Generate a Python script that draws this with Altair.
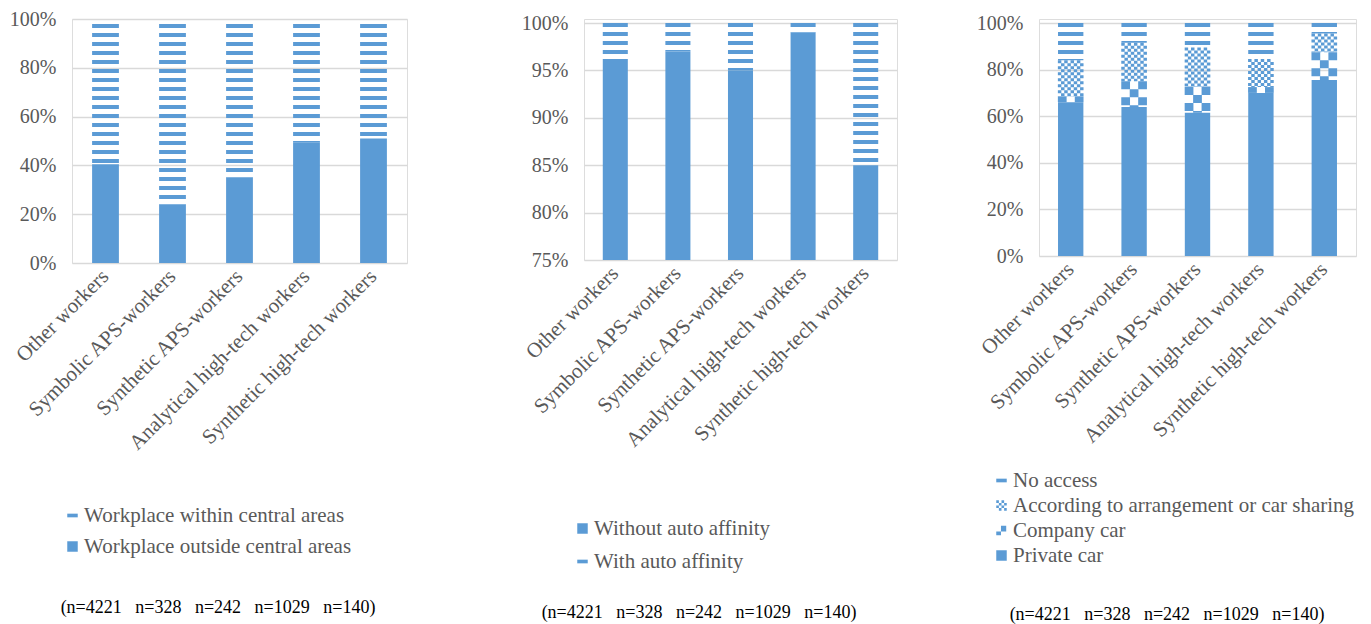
import altair as alt
import pandas as pd

BLUE = "#5B9BD5"
GRAY = "#595959"
GRID = "#D9D9D9"
FONT = "Liberation Serif"
NBSP = "\u00a0"

CATS = ["Other workers", "Symbolic APS-workers", "Synthetic APS-workers",
        "Analytical high-tech workers", "Synthetic high-tech workers"]

# Panel 1: workplace location
P1_SERIES = ["Workplace outside central areas", "Workplace within central areas"]
P1_OUTSIDE = [40.5, 24, 35, 49.5, 51]
P1_WITHIN = [59.5, 76, 65, 50.5, 49]
P1_LEGEND = ["Workplace within central areas", "Workplace outside central areas"]

# Panel 2: auto affinity
P2_SERIES = ["Without auto affinity", "With auto affinity"]
P2_WITHOUT = [96, 97, 95, 99, 85]
P2_WITH = [4, 3, 5, 1, 15]
P2_LEGEND = ["Without auto affinity", "With auto affinity"]

# Panel 3: car access
P3_SERIES = ["Private car", "Company car", "According to arrangement or car sharing", "No access"]
P3_PRIVATE = [66, 64, 61.5, 70, 75.5]
P3_COMPANY = [2.5, 11, 11, 2.5, 12]
P3_ARRANGE = [15.5, 16.5, 17, 12, 8]
P3_NOACCESS = [16, 8.5, 10.5, 15.5, 4.5]
P3_LEGEND = ["No access", "According to arrangement or car sharing", "Company car", "Private car"]

N_LABELS = ["n=4221", "n=328", "n=242", "n=1029", "n=140"]
N_TEXT = "(" + (NBSP * 3).join(N_LABELS) + ")"

# legend symbol paths (unit square -1..1)
SYM_SOLID = "M-1,-1H1V1H-1Z"
SYM_STRIPE = "M-1,-0.35H1V0.35H-1Z"
SYM_CHECK = "M-0.1,-0.9H0.9V0.2H-0.1Z M-1,0.2H-0.1V0.9H-1Z"
SYM_FINE = ("M-1,-1h0.5v0.5h-0.5Z M0,-1h0.5v0.5h-0.5Z M-0.5,-0.5h0.5v0.5h-0.5Z "
            "M0.5,-0.5h0.5v0.5h-0.5Z M-1,0h0.5v0.5h-0.5Z M0,0h0.5v0.5h-0.5Z "
            "M-0.5,0.5h0.5v0.5h-0.5Z M0.5,0.5h0.5v0.5h-0.5Z")


def long_df(names, values):
    rows = []
    for k, (name, vals) in enumerate(zip(names, values)):
        for c, v in zip(CATS, vals):
            rows.append({"cat": c, "series": name, "value": v, "order": k})
    return pd.DataFrame(rows)


def panel(df, width, height, ydomain, yticks, yrange, styles, legend_order,
          legend_paths, legend_x, legend_y, row_pad, n_x, n_y):
    step = width / 5.0
    bw = 0.4 * step
    x = alt.X("cat:N", sort=CATS,
              scale=alt.Scale(paddingInner=0.6, paddingOuter=0.3),
              axis=alt.Axis(title=None, labelAngle=-45, labelAlign="right",
                            labelBaseline="middle", labelPadding=10,
                            labelLimit=400, labelFontSize=21, labelFont=FONT,
                            labelColor=GRAY, domain=False, ticks=False,
                            grid=False))
    yscale_kwargs = dict(domain=ydomain, clamp=True, nice=False, zero=False)
    if yrange is not None:
        yscale_kwargs["range"] = yrange
    y = alt.Y("y1:Q", scale=alt.Scale(**yscale_kwargs),
              axis=alt.Axis(title=None, values=yticks,
                            labelExpr="datum.value + '%'", labelPadding=16,
                            labelFontSize=20, labelFont=FONT, labelColor=GRAY,
                            domain=False, ticks=False, gridColor=GRID,
                            gridWidth=1.5))
    base = alt.Chart(df).transform_stack(
        stack="value", groupby=["cat"], as_=["y0", "y1"],
        sort=[alt.SortField("order")])

    layers = []
    for name, style in styles.items():
        filt = base.transform_filter(alt.datum.series == name)
        kind = style[0]
        if kind == "solid":
            layers.append(filt.mark_bar(color=BLUE).encode(x=x, y=y, y2="y0:Q"))
        elif kind == "stripe":
            off = style[1]
            layers.append(filt.mark_rule(color=BLUE, strokeWidth=bw,
                                         strokeDash=[4, 5], strokeDashOffset=off,
                                         strokeCap="butt")
                          .encode(x=x, y=y, y2="y0:Q"))
        elif kind == "checker":
            ncol, cell = style[1], style[2]
            cw = bw / ncol
            for i in range(ncol):
                layers.append(filt.mark_rule(color=BLUE, strokeWidth=cw + 0.3,
                                             xOffset=(i - (ncol - 1) / 2.0) * cw,
                                             strokeDash=[cell, cell],
                                             strokeDashOffset=cell if i % 2 else 0,
                                             strokeCap="butt")
                              .encode(x=x, y=y, y2="y0:Q"))

    legend_layer = alt.Chart(df).mark_point(filled=True, color=BLUE, clip=True).encode(
        x=alt.value(20), y=alt.value(20), opacity=alt.value(0),
        shape=alt.Shape("series:N",
                        scale=alt.Scale(domain=legend_order, range=legend_paths),
                        legend=alt.Legend(title=None, orient="none",
                                          legendX=legend_x, legendY=legend_y,
                                          direction="vertical",
                                          labelFont=FONT, labelFontSize=21,
                                          labelColor=GRAY, labelLimit=600,
                                          symbolSize=110, symbolStrokeWidth=0,
                                          symbolFillColor=BLUE, symbolOpacity=1,
                                          rowPadding=row_pad, labelOffset=1,
                                          padding=0)))
    layers.append(legend_layer)

    ntext = alt.Chart(pd.DataFrame({"t": [N_TEXT]})).mark_text(
        font=FONT, fontSize=18, color="black", align="center", baseline="middle"
    ).encode(x=alt.value(n_x), y=alt.value(n_y), text="t:N")
    layers.append(ntext)

    return alt.layer(*layers).properties(width=width, height=height)


df1 = long_df(P1_SERIES, [P1_OUTSIDE, P1_WITHIN])
df2 = long_df(P2_SERIES, [P2_WITHOUT, P2_WITH])
df3 = long_df(P3_SERIES, [P3_PRIVATE, P3_COMPANY, P3_ARRANGE, P3_NOACCESS])

p1 = panel(df1, 335, 244, [0, 100], [0, 20, 40, 60, 80, 100], None,
           {"Workplace outside central areas": ("solid",),
            "Workplace within central areas": ("stripe", 4)},
           P1_LEGEND, [SYM_STRIPE, SYM_SOLID], -10, 486, 9, 146, 589)

p2 = panel(df2, 313, 241, [75, 100], [75, 80, 85, 90, 95, 100], [241, 4],
           {"Without auto affinity": ("solid",),
            "With auto affinity": ("stripe", 0)},
           P2_LEGEND, [SYM_SOLID, SYM_STRIPE], -12, 499, 11, 115, 594)

p3 = panel(df3, 317, 237, [0, 100], [0, 20, 40, 60, 80, 100], [237, 4],
           {"Private car": ("solid",),
            "Company car": ("checker", 3, 8),
            "According to arrangement or car sharing": ("checker", 8, 3),
            "No access": ("stripe", 0)},
           P3_LEGEND, [SYM_STRIPE, SYM_FINE, SYM_CHECK, SYM_SOLID], -48, 451, 3, 128, 596)


def spacer(w):
    return alt.Chart(pd.DataFrame({"a": [0]})).mark_rect(opacity=0).encode(
        x=alt.X("a:Q", axis=None), y=alt.Y("a:Q", axis=None)
    ).properties(width=w, height=60,
                 view=alt.ViewBackground(stroke="transparent", strokeWidth=0,
                                         fill="transparent"))


chart = alt.hconcat(p1, spacer(177), p2, spacer(142), p3, spacing=0, bounds="flush") \
    .resolve_scale(shape="independent", x="independent", y="independent") \
    .resolve_legend(shape="independent") \
    .properties(padding={"left": 8, "top": 5, "right": 0, "bottom": 0}) \
    .configure_view(strokeWidth=0, stroke="transparent") \
    .configure(background="white")

chart.save("out.html", embed_options={"renderer": "svg", "actions": False})
